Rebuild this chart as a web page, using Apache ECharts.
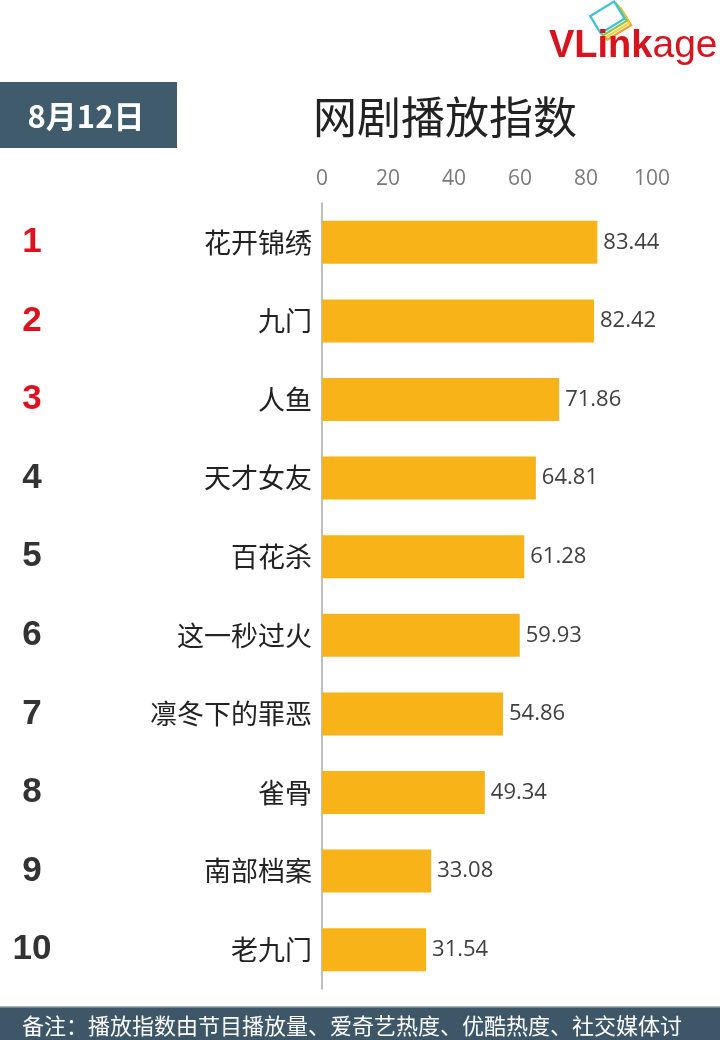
<!DOCTYPE html>
<html>
<head>
<meta charset="utf-8">
<script src="https://cdn.jsdelivr.net/npm/echarts@6/dist/echarts.min.js"></script>
<style>
html,body{margin:0;padding:0;background:#fff;}
#c{width:720px;height:1040px;}
</style>
</head>
<body>
<div id="c"></div>
<script>
const categories = ['花开锦绣','九门','人鱼','天才女友','百花杀','这一秒过火','凛冬下的罪恶','雀骨','南部档案','老九门'];
const values = [83.44, 82.42, 71.86, 64.81, 61.28, 59.93, 54.86, 49.34, 33.08, 31.54];
const ranks = ['1','2','3','4','5','6','7','8','9','10'];
const xTicks = [0, 20, 40, 60, 80, 100];
const titleText = '网剧播放指数';
const dateText = '8月12日';
const noteText = '备注：播放指数由节目播放量、爱奇艺热度、优酷热度、社交媒体讨';

const CJK = '"Noto Sans CJK SC", "Noto Sans", sans-serif';
const NUM = '"Open Sans", "Noto Sans CJK SC", sans-serif';

const chart = echarts.init(document.getElementById('c'));

const iconColors = ['#f0a030', '#f3d03a', '#8cc84b', '#3cc0d8'];
const iconRects = iconColors.map((col, i) => ({
  type: 'rect',
  x: 614 - i * 2.2,
  y: 24 - i * 2.2,
  rotation: 0.55,
  shape: { x: -14, y: -10, width: 28, height: 20 },
  style: { fill: '#fff', stroke: col, lineWidth: 2.2 }
}));

chart.setOption({
  animation: false,
  backgroundColor: '#fff',
  grid: { left: 322, top: 203, width: 330, height: 786, containLabel: false },
  xAxis: {
    type: 'value',
    position: 'top',
    min: xTicks[0],
    max: xTicks[xTicks.length - 1],
    interval: 20,
    axisLine: { show: false },
    axisTick: { show: false },
    splitLine: { show: false },
    axisLabel: { color: '#7a7a7a', fontSize: 21, fontFamily: NUM, margin: 13 }
  },
  yAxis: [
    {
      type: 'category',
      data: categories,
      inverse: true,
      axisTick: { show: false },
      axisLine: { show: true, lineStyle: { color: '#a8a8a8', width: 1.5 } },
      axisLabel: { color: '#222', fontSize: 27, fontFamily: CJK, margin: 10 }
    },
    {
      type: 'category',
      data: ranks,
      inverse: true,
      position: 'left',
      offset: 290,
      axisTick: { show: false },
      axisLine: { show: false },
      axisLabel: {
        margin: 0,
        align: 'center',
        formatter: (v, i) => (i < 3 ? '{r|' + v + '}' : '{d|' + v + '}'),
        rich: {
          r: { color: '#e0111f', fontSize: 35, fontWeight: 'bold', fontFamily: '"Liberation Sans", Arial, sans-serif' },
          d: { color: '#333', fontSize: 35, fontWeight: 'bold', fontFamily: '"Liberation Sans", Arial, sans-serif' }
        }
      }
    }
  ],
  series: [{
    type: 'bar',
    data: values,
    barWidth: 43,
    itemStyle: { color: '#f8b319' },
    label: {
      show: true,
      position: 'right',
      distance: 6,
      color: '#404040',
      fontSize: 22,
      fontFamily: NUM,
      formatter: p => p.value.toFixed(2)
    }
  }],
  graphic: [
    { type: 'rect', shape: { x: 0, y: 82, width: 177, height: 66 }, style: { fill: '#3f5b6c' } },
    { type: 'text', x: 86, y: 116, style: { text: dateText, fill: '#fff', fontSize: 31, fontWeight: 'bold', fontFamily: CJK, align: 'center', verticalAlign: 'middle' } },
    { type: 'text', x: 445, y: 117, style: { text: titleText, fill: '#222', fontSize: 44, fontFamily: CJK, align: 'center', verticalAlign: 'middle' } },
    { type: 'rect', shape: { x: 0, y: 1007, width: 720, height: 33 }, style: { fill: '#3d5768' } },
    { type: 'rect', shape: { x: 0, y: 1006, width: 720, height: 1.5 }, style: { fill: '#a9b5bc' } },
    { type: 'text', x: 22, y: 1026, style: { text: noteText, fill: '#fff', fontSize: 22, fontFamily: CJK, align: 'left', verticalAlign: 'middle' } },
    ...iconRects,
    {
      type: 'text', x: 549, y: 66,
      style: {
        text: '{b|VLink}{n|age}',
        verticalAlign: 'bottom',
        rich: {
          b: { fill: '#d7141d', fontSize: 38, fontWeight: 'bold', fontFamily: '"Liberation Sans", Arial, sans-serif' },
          n: { fill: '#d7141d', fontSize: 39, fontFamily: '"Liberation Sans", Arial, sans-serif' }
        }
      }
    }
  ]
});
</script>
</body>
</html>
